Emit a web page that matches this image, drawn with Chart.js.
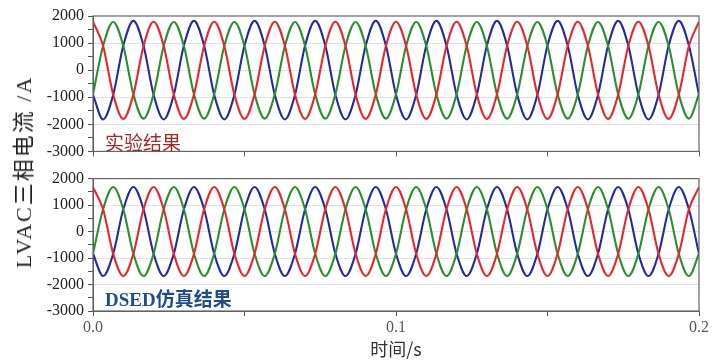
<!DOCTYPE html>
<html>
<head>
<meta charset="utf-8">
<script src="https://cdn.jsdelivr.net/npm/chart.js@4.4.1/dist/chart.umd.min.js"></script>
<style>
  body { margin: 0; background: #fff; width: 715px; height: 360px; position: relative; overflow: hidden; }
  canvas { position: absolute; left: 0; }
  #topChart { top: 0; }
  #botChart { top: 165px; }
  .tag { position: absolute; left: 105px; font-size: 19px; white-space: nowrap; line-height: 1; }
  #tagTop { top: 132px; color: #a3282c; font-family: "Noto Sans CJK SC", serif; }
  #tagBot { top: 288px; color: #1c4d8c; font-weight: bold; font-family: "Liberation Serif", "Noto Sans CJK SC", serif; }
  #ytitle {
    position: absolute; left: 21px; top: 172px; white-space: nowrap;
    transform: translate(-50%, -50%) rotate(-90deg);
    font-size: 22px; letter-spacing: 2px; color: #222;
    font-family: "Liberation Serif", "Noto Sans CJK SC", serif;
  }
</style>
</head>
<body>
<canvas id="topChart" width="715" height="165"></canvas>
<canvas id="botChart" width="715" height="195"></canvas>
<div class="tag" id="tagTop">实验结果</div>
<div class="tag" id="tagBot">DSED<span style="font-family:'Noto Sans CJK SC'">仿真结果</span></div>
<div id="ytitle">LVAC三相电流 /A</div>
<script>
// sample times (s), every 1/6 of a 50 Hz period
const time = [0, 0.00333, 0.00667, 0.01, 0.01333, 0.01667, 0.02, 0.02333, 0.02667, 0.03, 0.03333, 0.03667,
  0.04, 0.04333, 0.04667, 0.05, 0.05333, 0.05667, 0.06, 0.06333, 0.06667, 0.07, 0.07333, 0.07667,
  0.08, 0.08333, 0.08667, 0.09, 0.09333, 0.09667, 0.1, 0.10333, 0.10667, 0.11, 0.11333, 0.11667,
  0.12, 0.12333, 0.12667, 0.13, 0.13333, 0.13667, 0.14, 0.14333, 0.14667, 0.15, 0.15333, 0.15667,
  0.16, 0.16333, 0.16667, 0.17, 0.17333, 0.17667, 0.18, 0.18333, 0.18667, 0.19, 0.19333, 0.19667, 0.2];

// experimental result (top panel), A
const expRed = [1790, 900, -900, -1800, -900, 895, 1790, 900, -900, -1800, -900, 895,
  1790, 900, -900, -1800, -900, 895, 1790, 900, -900, -1800, -900, 895,
  1790, 900, -900, -1800, -900, 895, 1790, 900, -900, -1800, -900, 895,
  1790, 900, -900, -1800, -900, 895, 1790, 900, -900, -1800, -900, 895,
  1790, 900, -900, -1800, -900, 895, 1790, 900, -900, -1800, -900, 895, 1790];
const expGreen = [-890, 890, 1780, 890, -890, -1790, -890, 890, 1780, 890, -890, -1790,
  -890, 890, 1780, 890, -890, -1790, -890, 890, 1780, 890, -890, -1790,
  -890, 890, 1780, 890, -890, -1790, -890, 890, 1780, 890, -890, -1790,
  -890, 890, 1780, 890, -890, -1790, -890, 890, 1780, 890, -890, -1790,
  -890, 890, 1780, 890, -890, -1790, -890, 890, 1780, 890, -890, -1790, -890];
const expBlue = [-910, -1820, -910, 910, 1820, 910, -910, -1820, -910, 910, 1820, 910,
  -910, -1820, -910, 910, 1820, 910, -910, -1820, -910, 910, 1820, 910,
  -910, -1820, -910, 910, 1820, 910, -910, -1820, -910, 910, 1820, 910,
  -910, -1820, -910, 910, 1820, 910, -910, -1820, -910, 910, 1820, 910,
  -910, -1820, -910, 910, 1820, 910, -910, -1820, -910, 910, 1820, 910, -910];

// DSED simulation (bottom panel), A
const simRed = [1680, 840, -840, -1680, -840, 840, 1680, 840, -840, -1680, -840, 840,
  1680, 840, -840, -1680, -840, 840, 1680, 840, -840, -1680, -840, 840,
  1680, 840, -840, -1680, -840, 840, 1680, 840, -840, -1680, -840, 840,
  1680, 840, -840, -1680, -840, 840, 1680, 840, -840, -1680, -840, 840,
  1680, 840, -840, -1680, -840, 840, 1680, 840, -840, -1680, -840, 840, 1680];
const simGreen = [-840, 840, 1680, 840, -840, -1680, -840, 840, 1680, 840, -840, -1680,
  -840, 840, 1680, 840, -840, -1680, -840, 840, 1680, 840, -840, -1680,
  -840, 840, 1680, 840, -840, -1680, -840, 840, 1680, 840, -840, -1680,
  -840, 840, 1680, 840, -840, -1680, -840, 840, 1680, 840, -840, -1680,
  -840, 840, 1680, 840, -840, -1680, -840, 840, 1680, 840, -840, -1680, -840];
const simBlue = [-840, -1680, -840, 840, 1680, 840, -840, -1680, -840, 840, 1680, 840,
  -840, -1680, -840, 840, 1680, 840, -840, -1680, -840, 840, 1680, 840,
  -840, -1680, -840, 840, 1680, 840, -840, -1680, -840, 840, 1680, 840,
  -840, -1680, -840, 840, 1680, 840, -840, -1680, -840, 840, 1680, 840,
  -840, -1680, -840, 840, 1680, 840, -840, -1680, -840, 840, 1680, 840, -840];

const yMin = -3000, yMax = 2000, yStep = 500;
const xMin = 0, xMax = 0.2, xStep = 0.05;
const gridValues = [1000, 0, -1000, -2000];

const axisColor = '#555';
const tickFont = { family: 'Liberation Serif', size: 16 };

// draws the box round the plot area
const framePlugin = {
  id: 'frame',
  afterDatasetsDraw(chart) {
    const { ctx, chartArea: a } = chart;
    ctx.save();
    ctx.strokeStyle = '#666';
    ctx.lineWidth = 1.2;
    ctx.strokeRect(a.left, a.top, a.right - a.left, a.bottom - a.top);
    ctx.restore();
  }
};

const toPoints = (vals) => vals.map((v, i) => ({ x: time[i], y: v }));

const series = (label, vals, color) => ({
  label,
  data: toPoints(vals),
  borderColor: color,
  borderWidth: 2.1,
  pointRadius: 0,
  fill: false,
  cubicInterpolationMode: 'monotone'
});

function makePanel(id, red, green, blue, opts) {
  const ctx = document.getElementById(id).getContext('2d');
  return new Chart(ctx, {
    type: 'line',
    data: {
      datasets: [
        series('A', red, '#e8262c'),
        series('B', green, '#2b8f2e'),
        series('C', blue, '#222c9c')
      ]
    },
    options: {
      responsive: false,
      animation: false,
      devicePixelRatio: 1,
      layout: { padding: { top: opts.padTop, right: 16, left: 0, bottom: 0 } },
      plugins: { legend: { display: false }, tooltip: { enabled: false } },
      scales: {
        x: {
          type: 'linear',
          min: xMin,
          max: xMax,
          afterFit: (s) => { s.height = opts.xHeight; },
          grid: { drawOnChartArea: false, drawTicks: true, tickLength: 5, tickColor: axisColor },
          border: { color: axisColor },
          ticks: {
            stepSize: xStep,
            autoSkip: false,
            maxRotation: 0,
            padding: 2,
            color: '#555',
            font: tickFont,
            callback: (v) => {
              if (!opts.xLabels) return '';
              return Math.abs(v * 10 - Math.round(v * 10)) < 1e-6 ? v.toFixed(1) : '';
            }
          },
          title: {
            display: opts.xLabels,
            text: '时间/s',
            color: '#333',
            font: { family: 'Noto Sans CJK SC', size: 18 },
            padding: { top: 0, bottom: 0 }
          }
        },
        y: {
          min: yMin,
          max: yMax,
          afterFit: (s) => { s.width = 93; },
          grid: {
            tickLength: 5,
            tickColor: axisColor,
            color: (c) => gridValues.includes(c.tick.value) ? '#e2e2e2' : 'rgba(0,0,0,0)'
          },
          border: { color: axisColor },
          ticks: {
            stepSize: yStep,
            autoSkip: false,
            padding: 4,
            color: '#222',
            font: tickFont,
            callback: (v) => (v % 1000 === 0 ? String(v) : '')
          }
        }
      }
    },
    plugins: [framePlugin]
  });
}

makePanel('topChart', expRed, expGreen, expBlue, { padTop: 16, xHeight: 12, xLabels: false });
makePanel('botChart', simRed, simGreen, simBlue, { padTop: 8, xHeight: 49, xLabels: true });
</script>
</body>
</html>
